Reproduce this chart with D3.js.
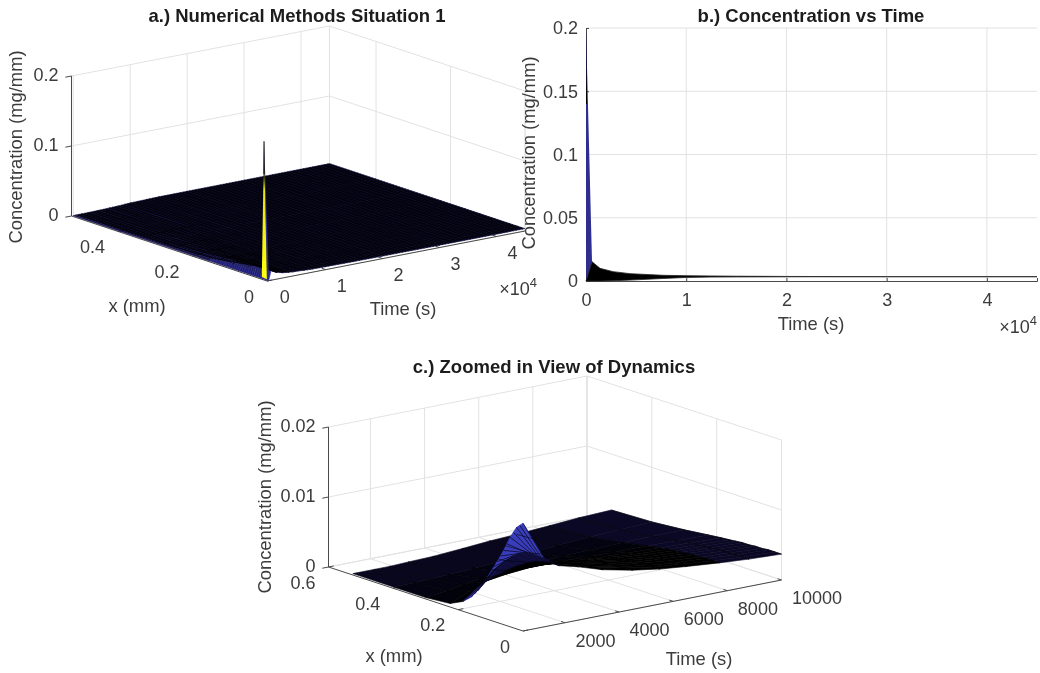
<!DOCTYPE html>
<html>
<head>
<meta charset="utf-8">
<script src="https://cdn.jsdelivr.net/npm/d3@7/dist/d3.min.js"></script>
<style>
    html, body { margin: 0; padding: 0; background: #fff; }
    svg { display: block; filter: blur(0.35px); }
    text { font-family: "Liberation Sans", Arial, sans-serif; }
</style>
</head>
<body>
<div id="chart"></div>
<script>
// panel a: whole run, surface
const aX = [0, 0.02, 0.04, 0.08, 0.12, 0.16, 0.225, 0.3, 0.4, 0.525];
const aTimes = [0, 450, 1400, 2700, 4400, 7700, 10000, 15000, 20000, 30000, 45000];
const aConc = [
    [0, 0, 0, 0, 0, 0, 0, 0, 0, 0],
    [0.0154, 0.0145, 0.0128, 0.0087, 0.0051, 0.0024, 0.0005, 0.0002, 0.0002, 0.0002],
    [0.0095, 0.0095, 0.0094, 0.0087, 0.0072, 0.0052, 0.0022, 0.0007, 0.0002, 0.0002],
    [0.0072, 0.0072, 0.0071, 0.0067, 0.0061, 0.0052, 0.0033, 0.0015, 0.0005, 0.0003],
    [0.0058, 0.0058, 0.0057, 0.0055, 0.0052, 0.0047, 0.0036, 0.0022, 0.0009, 0.0006],
    [0.0045, 0.0045, 0.0044, 0.0043, 0.0042, 0.0039, 0.0034, 0.0027, 0.0018, 0.0014],
    [0.0042, 0.0042, 0.0041, 0.0040, 0.0039, 0.0037, 0.0034, 0.0030, 0.0026, 0.0024],
    [0.0038, 0.0038, 0.0038, 0.0037, 0.0037, 0.0036, 0.0035, 0.0034, 0.0033, 0.0032],
    [0.0036, 0.0036, 0.0036, 0.0036, 0.0035, 0.0035, 0.0035, 0.0034, 0.0034, 0.0033],
    [0.0034, 0.0034, 0.0034, 0.0034, 0.0034, 0.0034, 0.0034, 0.0034, 0.0034, 0.0034],
    [0.0034, 0.0034, 0.0034, 0.0034, 0.0034, 0.0034, 0.0034, 0.0034, 0.0034, 0.0034]
];
// the initial spike, its tip and the three base nodes
const spikeX = [0.0126, 0.0185, 0.005, 0.008];
const spikeT = [0, 0, 0, 500];
const spikeZ = [0.197, 0.002, 0.001, 0.0145];

// panel b: side view of the same surface
const bTimes = [0, 600, 1400, 2700, 4400, 7700, 10000, 12400, 15000, 20000, 30000, 45000];
const bTop = [0.2, 0.0153, 0.0100, 0.0074, 0.0058, 0.0045, 0.0042, 0.0040, 0.0038, 0.0036, 0.0034, 0.0034];
const bBottom = [0, 0, 0, 0.0002, 0.0007, 0.0020, 0.0028, 0.0031, 0.0032, 0.0033, 0.0034, 0.0034];
const bTipTimes = [0, 110, 0];
const bTipConc = [0.2, 0.14, 0.14];

// panel c: zoomed surface
const cX = [0, 0.02, 0.04, 0.06, 0.08, 0.1, 0.12, 0.14, 0.16, 0.185, 0.225, 0.3, 0.4, 0.525];
const cTimes = [450, 1230, 1800, 2500, 3400, 4500, 5500, 6500, 7700, 8800, 10000];
const cConc = [
    [0.0154, 0.0145, 0.0128, 0.0106, 0.0087, 0.0069, 0.0051, 0.0036, 0.0024, 0.0014, 0.0005, 0.0002, 0.0002, 0.0002],
    [0.0098, 0.0099, 0.0099, 0.0097, 0.0092, 0.0084, 0.0076, 0.0066, 0.0054, 0.0036, 0.0018, 0.0006, 0.0002, 0.0002],
    [0.0083, 0.0083, 0.0082, 0.0080, 0.0077, 0.0072, 0.0066, 0.0060, 0.0053, 0.0043, 0.0027, 0.0010, 0.0003, 0.0002],
    [0.0076, 0.0076, 0.0075, 0.0073, 0.0070, 0.0067, 0.0063, 0.0058, 0.0052, 0.0045, 0.0031, 0.0014, 0.0004, 0.0003],
    [0.0065, 0.0065, 0.0064, 0.0063, 0.0061, 0.0059, 0.0056, 0.0053, 0.0049, 0.0044, 0.0034, 0.0018, 0.0006, 0.0004],
    [0.0056, 0.0056, 0.0055, 0.0054, 0.0053, 0.0052, 0.0050, 0.0048, 0.0045, 0.0041, 0.0034, 0.0021, 0.0009, 0.0007],
    [0.0050, 0.0050, 0.0049, 0.0049, 0.0048, 0.0047, 0.0045, 0.0044, 0.0042, 0.0039, 0.0033, 0.0023, 0.0012, 0.0010],
    [0.0046, 0.0046, 0.0045, 0.0045, 0.0044, 0.0043, 0.0042, 0.0041, 0.0039, 0.0037, 0.0032, 0.0024, 0.0015, 0.0012],
    [0.0042, 0.0042, 0.0042, 0.0041, 0.0041, 0.0040, 0.0039, 0.0038, 0.0037, 0.0035, 0.0032, 0.0025, 0.0018, 0.0015],
    [0.0039, 0.0039, 0.0039, 0.0039, 0.0038, 0.0038, 0.0037, 0.0036, 0.0035, 0.0034, 0.0031, 0.0026, 0.0020, 0.0018],
    [0.0037, 0.0037, 0.0037, 0.0036, 0.0036, 0.0035, 0.0035, 0.0034, 0.0033, 0.0032, 0.0030, 0.0026, 0.0022, 0.0020]
];

// tick labels
const aXTicks = [0, 0.2, 0.4];
const aTimeTicks = [0, 10000, 20000, 30000, 40000];
const aZTicks = [0, 0.1, 0.2];
const bTimeTicks = [0, 10000, 20000, 30000, 40000];
const bConcTicks = [0, 0.05, 0.1, 0.15, 0.2];
const cXTicks = [0, 0.2, 0.4, 0.6];
const cTimeTicks = [2000, 4000, 6000, 8000, 10000];
const cZTicks = [0, 0.01, 0.02];

const svg = d3.select("#chart").append("svg")
    .attr("width", 1040)
    .attr("height", 673);

const AXIS = "#4a4a4a";
const GRID = "#e2e2e2";
const TEXT = "#3c3c3c";
const BLUE = "#2f2e8f";
const NAVY = "#1a1750";
const TICK_SIZE = 18;
const LABEL_SIZE = 18.4;

const line = d3.line();

// 3d box drawn as an oblique projection, one scale per screen direction
function makeBox(o) {
    const xPx = d3.scaleLinear().domain(o.xDomain).range([0, o.xEnd[0] - o.front[0]]);
    const xPy = d3.scaleLinear().domain(o.xDomain).range([0, o.xEnd[1] - o.front[1]]);
    const tPx = d3.scaleLinear().domain(o.tDomain).range([0, o.tEnd[0] - o.front[0]]);
    const tPy = d3.scaleLinear().domain(o.tDomain).range([0, o.tEnd[1] - o.front[1]]);
    const zPy = d3.scaleLinear().domain(o.zDomain).range([0, -o.zPixels]);
    return (x, t, z) => [
        o.front[0] + xPx(x) + tPx(t),
        o.front[1] + xPy(x) + tPy(t) + zPy(z)
    ];
}

function drawBox(g, o, project) {
    const [x0, x1] = o.xDomain;
    const [t0, t1] = o.tDomain;
    const [z0, z1] = o.zDomain;
    const tLen = t1 - t0;
    const xLen = x1 - x0;

    const grid = g.append("g").attr("fill", "none").attr("stroke", GRID).attr("stroke-width", 1);
    o.zTicks.forEach(z => {
        grid.append("path").attr("d", line([project(x1, t0, z), project(x1, t1, z), project(x0, t1, z)]));
    });
    o.tTicks.forEach(t => {
        grid.append("path").attr("d", line([project(x0, t, z0), project(x1, t, z0), project(x1, t, z1)]));
    });
    o.xTicks.forEach(x => {
        grid.append("path").attr("d", line([project(x, t0, z0), project(x, t1, z0), project(x, t1, z1)]));
    });
    grid.append("path").attr("d", line([project(x1, t1, z0), project(x1, t1, z1)]));
    grid.append("path").attr("d", line([project(x0, t1, z0), project(x0, t1, z1)]));

    const axes = g.append("g").attr("fill", "none").attr("stroke", AXIS).attr("stroke-width", 1);
    axes.append("path").attr("d", line([project(x1, t0, z1), project(x1, t0, z0), project(x0, t0, z0), project(x0, t1, z0)]));
    o.zTicks.forEach(z => {
        axes.append("path").attr("d", line([project(x1, t0, z), project(x1, t0 - tLen * 0.024, z)]));
    });
    o.tTicks.forEach(t => {
        axes.append("path").attr("d", line([project(x0, t, z0), project(x0 + xLen * 0.02, t, z0)]));
    });
    o.xTicks.forEach(x => {
        axes.append("path").attr("d", line([project(x, t0, z0), project(x, t0 + tLen * 0.02, z0)]));
    });

    const labels = g.append("g").attr("fill", TEXT).attr("font-size", TICK_SIZE);
    o.zTicks.forEach(z => {
        const p = project(x1, t0, z);
        labels.append("text").attr("x", p[0] - 13).attr("y", p[1] + 4.5).attr("text-anchor", "end").text(z);
    });
    o.xTicks.forEach(x => {
        const p = project(x, t0, z0);
        labels.append("text").attr("x", p[0] - 13).attr("y", p[1] + 21.5).attr("text-anchor", "end").text(x);
    });
    o.tTicks.forEach(t => {
        const p = project(x0, t, z0);
        labels.append("text").attr("x", p[0] + o.tLabelDx).attr("y", p[1] + o.tLabelDy)
            .text(o.tFormat(t));
    });
}

function title(x, y, s) {
    svg.append("text").attr("x", x).attr("y", y).attr("text-anchor", "middle")
        .attr("font-size", 18.5).attr("font-weight", "bold").attr("fill", "#1c1c1c").text(s);
}

function label(x, y, s, rotate) {
    svg.append("text").attr("text-anchor", "middle").attr("font-size", LABEL_SIZE).attr("fill", TEXT)
        .attr("transform", `translate(${x},${y})` + (rotate ? " rotate(-90)" : ""))
        .text(s);
}

function timesTen(x, y) {
    const t = svg.append("text").attr("x", x).attr("y", y).attr("text-anchor", "end")
        .attr("font-size", TICK_SIZE).attr("fill", TEXT);
    t.append("tspan").text("\u00d710");
    t.append("tspan").attr("font-size", 13).attr("dy", -8).text("4");
}

// painter's order: far rows and columns first
function drawSurface(g, project, xs, ts, zs, faceColor) {
    for (let i = ts.length - 2; i >= 0; i--) {
        for (let j = xs.length - 2; j >= 0; j--) {
            const pts = [
                project(xs[j], ts[i], zs[i][j]),
                project(xs[j + 1], ts[i], zs[i][j + 1]),
                project(xs[j + 1], ts[i + 1], zs[i + 1][j + 1]),
                project(xs[j], ts[i + 1], zs[i + 1][j])
            ];
            g.append("path")
                .attr("d", line(pts) + "Z")
                .attr("fill", faceColor(i, j))
                .attr("stroke", faceColor(i, j))
                .attr("stroke-width", 0.6);
        }
    }
}

//PANEL A
const boxA = {
    front: [267, 281], xEnd: [71.5, 216], tEnd: [525, 231],
    xDomain: [0, 0.525], tDomain: [-300, 45000], zDomain: [0, 0.2], zPixels: 140,
    xTicks: aXTicks, tTicks: aTimeTicks, zTicks: aZTicks,
    tLabelDx: 11, tLabelDy: 22.5, tFormat: t => t / 10000
};
const projectA = makeBox(boxA);
const gA = svg.append("g");
drawBox(gA, boxA, projectA);
drawSurface(gA, projectA, aX, aTimes, aConc, (i, j) => i === 0 && j < 5 ? BLUE : NAVY);

// fine mesh over the plane, heights taken from the nearest table cell
const meshA = gA.append("g").attr("fill", "none").attr("stroke", "#000").attr("stroke-width", 0.8);
d3.range(0.008, 0.525, 0.008).forEach(x => {
    const j = d3.bisectCenter(aX, x);
    meshA.append("path").attr("d", line(aTimes.slice(1).map((t, i) => projectA(x, t, aConc[i + 1][j]))));
});
d3.range(900, 45000, 540).forEach(t => {
    const i = d3.bisectCenter(aTimes, t);
    meshA.append("path").attr("d", line(aX.map((x, j) => projectA(x, t, aConc[i][j]))));
});
// ribs on the first time step
const ribsA = gA.append("g").attr("fill", "none").attr("stroke", "#14123f").attr("stroke-width", 0.7);
d3.range(0.015, 0.19, 0.0055).forEach(x => {
    const j = d3.bisectCenter(aX, x);
    ribsA.append("path").attr("d", line([projectA(x, aTimes[0], aConc[0][j]), projectA(x, aTimes[1], aConc[1][j])]));
});

const spikePts = spikeX.map((x, i) => projectA(x, spikeT[i], spikeZ[i]));
const grad = svg.append("defs").append("linearGradient")
    .attr("id", "spikeFill")
    .attr("gradientUnits", "userSpaceOnUse")
    .attr("x1", 0).attr("x2", 0)
    .attr("y1", spikePts[0][1]).attr("y2", spikePts[1][1]);
grad.append("stop").attr("offset", "0.22").attr("stop-color", "#000");
grad.append("stop").attr("offset", "0.36").attr("stop-color", "#e6e614");
grad.append("stop").attr("offset", "1").attr("stop-color", "#ffff10");
gA.append("path").attr("d", line([spikePts[0], spikePts[3], spikePts[2]]) + "Z").attr("fill", "#2f2e8f");
gA.append("path").attr("d", line([spikePts[0], spikePts[1], spikePts[2]]) + "Z").attr("fill", "url(#spikeFill)");
gA.append("path").attr("d", line([spikePts[0], projectA(spikeX[0], spikeT[0], 0.15)])).attr("stroke", "#000").attr("stroke-width", 1);

title(297, 22, "a.) Numerical Methods Situation 1");
label(22, 147, "Concentration (mg/mm)", true);
label(137, 312, "x (mm)");
label(403, 315, "Time (s)");
timesTen(537, 295);

//PANEL B
const bX = d3.scaleLinear().domain([0, 45000]).range([586, 1037]);
const bY = d3.scaleLinear().domain([0, 0.2]).range([281, 28]);
const gB = svg.append("g");

const gridB = gB.append("g").attr("stroke", GRID).attr("stroke-width", 1);
bConcTicks.slice(1).forEach(v => {
    gridB.append("line").attr("x1", bX(0)).attr("x2", bX(45000)).attr("y1", bY(v)).attr("y2", bY(v));
});
bTimeTicks.slice(1).forEach(v => {
    gridB.append("line").attr("x1", bX(v)).attr("x2", bX(v)).attr("y1", bY(0)).attr("y2", bY(0.2));
});

const axisB = gB.append("g").attr("transform", `translate(0,${bY(0)})`)
    .call(d3.axisBottom(bX).tickValues(bTimeTicks).tickFormat(d => d / 10000).tickSize(-3).tickPadding(12));
const axisL = gB.append("g").attr("transform", `translate(${bX(0)},0)`)
    .call(d3.axisLeft(bY).tickValues(bConcTicks).tickFormat(d => d).tickSize(-3).tickPadding(8));
[axisB, axisL].forEach(a => {
    a.selectAll("path,line").attr("stroke", AXIS);
    a.selectAll("text").attr("fill", TEXT).attr("font-size", TICK_SIZE)
        .attr("font-family", '"Liberation Sans", Arial, sans-serif');
});

const bArea = d3.area().x(d => bX(d.t)).y0(d => bY(d.low)).y1(d => bY(d.high));
const bBand = bTimes.slice(1).map((t, i) => ({ t: t, low: bBottom[i + 1], high: bTop[i + 1] }));
gB.append("path")
    .attr("d", line([[bX(0), bY(0)], [bX(bTimes[0]), bY(bTop[0])], [bX(bTimes[1]), bY(bTop[1])]]) + "Z")
    .attr("fill", BLUE);
gB.append("path")
    .attr("d", line(bTipTimes.map((t, i) => [bX(t), bY(bTipConc[i])])) + "Z")
    .attr("fill", "#000");
gB.append("path")
    .attr("d", bArea([{ t: 0, low: 0, high: 0 }, ...bBand]))
    .attr("fill", "#000").attr("stroke", "#222").attr("stroke-width", 0.8);

title(811, 22, "b.) Concentration vs Time");
label(535, 153, "Concentration (mg/mm)", true);
label(811, 330, "Time (s)");
timesTen(1037, 333);

//PANEL C
const boxC = {
    front: [523, 631], xEnd: [328.5, 567], tEnd: [781.5, 580],
    xDomain: [0, 0.6], tDomain: [450, 10000], zDomain: [0, 0.02], zPixels: 140,
    xTicks: cXTicks, tTicks: cTimeTicks, zTicks: cZTicks,
    tLabelDx: 10.5, tLabelDy: 24, tFormat: t => t
};
const projectC = makeBox(boxC);
const gC = svg.append("g");
drawBox(gC, boxC, projectC);

const cShade = d3.scaleLinear().domain([0.14, 0.3, 0.525]).range(["#000000", "#040312", "#0e0c2c"]).clamp(true);
drawSurface(gC, projectC, cX, cTimes, cConc, (i, j) => {
    if (i === 0 && j < 9) return "#3a3dba";
    if (i === 1 && j < 9) return "#100e3c";
    if (i >= 8) return "#0a0824";
    return cShade(cX[j]);
});

// ribs on the blue faces, one on each table column and one midway
const ribsC = gC.append("g").attr("fill", "none").attr("stroke", "#0b0a2c").attr("stroke-width", 0.8);
cX.slice(0, 10).forEach((x, j) => {
    const a = projectC(x, cTimes[0], cConc[0][j]);
    const b = projectC(x, cTimes[1], cConc[1][j]);
    ribsC.append("path").attr("d", line([a, b]));
    if (j < 9) {
        const a2 = projectC(cX[j + 1], cTimes[0], cConc[0][j + 1]);
        const b2 = projectC(cX[j + 1], cTimes[1], cConc[1][j + 1]);
        ribsC.append("path").attr("d", line([
            [(a[0] + a2[0]) / 2, (a[1] + a2[1]) / 2],
            [(b[0] + b2[0]) / 2, (b[1] + b2[1]) / 2]
        ]));
    }
});
const rowsC = gC.append("g").attr("fill", "none").attr("stroke", "#000").attr("stroke-width", 0.7).attr("opacity", 0.8);
cTimes.slice(1).forEach((t, i) => {
    rowsC.append("path").attr("d", line(cX.map((x, j) => projectC(x, t, cConc[i + 1][j]))));
});

title(554, 372.5, "c.) Zoomed in View of Dynamics");
label(270.5, 497, "Concentration (mg/mm)", true);
label(394, 662, "x (mm)");
label(699, 665, "Time (s)");
</script>
</body>
</html>
